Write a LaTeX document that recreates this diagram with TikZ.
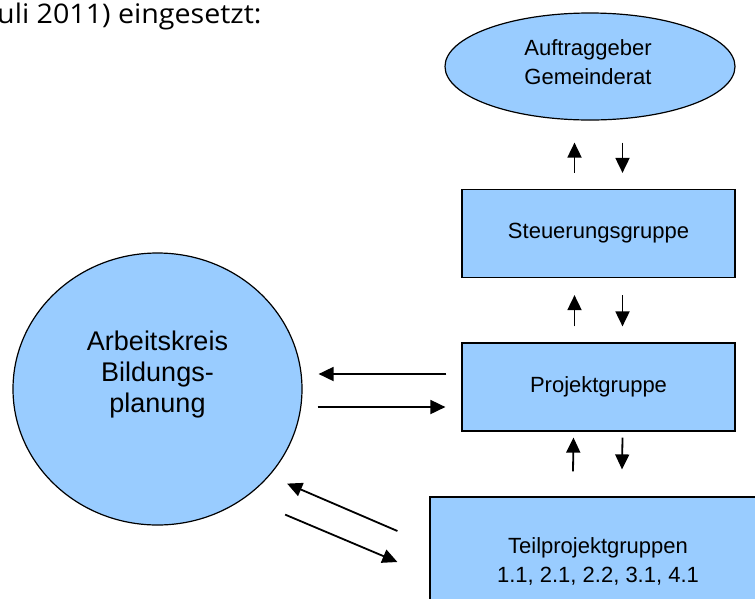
\documentclass[tikz,border=0pt]{standalone}
\usepackage{fontspec}
\setmainfont{Liberation Sans}
\newfontfamily\introfont{Open Sans}
\usetikzlibrary{shapes.geometric,arrows.meta}
\definecolor{gruppenblau}{HTML}{99CCFF}
\tikzset{
  gruppe/.style={draw,fill=gruppenblau,line width=1.2pt,minimum width=273pt,minimum height=88pt,font=\fontsize{22}{29}\selectfont,align=center},
  blase/.style={ellipse,draw,fill=gruppenblau,line width=1.2pt},
  innen/.style={align=center,font=\fontsize{22}{29}\selectfont},
  pfeil/.style={line width=1.8pt,-{Triangle[length=15pt,width=14pt]}},
}
\begin{document}
\begin{tikzpicture}[x=1pt,y=-1pt]
    \useasboundingbox (0,0) rectangle (755,598);
    \fill[white] (0,0) rectangle (755,598);
    \node[anchor=base west,inner sep=0pt,font=\introfont\fontsize{27}{32}\selectfont] (intro) at (-3,23) {\scalebox{1.06}[1]{uli 2011) eingesetzt:}};
    %% Gremien
    \node[blase,minimum width=290pt,minimum height=107pt,label={[innen,xshift=-2pt,yshift=4pt]center:Auftraggeber\\Gemeinderat}] (auftrag) at (590,66.5) {};
    \node[gruppe] (steuer) at (598.5,233.5) {Steuerungsgruppe};
    \node[gruppe] (projekt) at (598.5,387) {Projektgruppe};
    \node[gruppe,minimum width=336pt,minimum height=128pt] (teil) at (598,561) {Teilprojektgruppen\\1.1, 2.1, 2.2, 3.1, 4.1};
    \node[blase,minimum width=289pt,minimum height=272pt,label={[innen,font=\fontsize{27}{31}\selectfont,yshift=14pt]center:Arbeitskreis\\Bildungs-\\planung}] (kreis) at (157.5,389) {};
    %% Pfeile
    \draw[pfeil] ([xshift=-24pt,yshift=16pt]steuer.north) -- ([xshift=-24pt,yshift=-22pt]auftrag.south -| steuer.north);
    \draw[pfeil] ([xshift=24pt,yshift=-22pt]auftrag.south -| steuer.north) -- ([xshift=24pt,yshift=16pt]steuer.north);
    \draw[pfeil] ([xshift=-24pt,yshift=16pt]projekt.north) -- ([xshift=-24pt,yshift=-17pt]steuer.south);
    \draw[pfeil] ([xshift=24pt,yshift=-17pt]steuer.south) -- ([xshift=24pt,yshift=16pt]projekt.north);
    \draw[pfeil] ([xshift=-25pt,yshift=25pt]teil.north) -- ([xshift=-25pt,yshift=-6pt]projekt.south);
    \draw[pfeil] ([xshift=24pt,yshift=-6pt]projekt.south) -- ([xshift=24pt,yshift=27pt]teil.north);
    \draw[pfeil] ([xshift=-15pt,yshift=13pt]projekt.west) -- ([xshift=16pt,yshift=15pt]kreis.east);
    \draw[pfeil] ([xshift=15pt,yshift=-18pt]kreis.east) -- ([xshift=-16pt,yshift=-20pt]projekt.west);
    \draw[pfeil] ([xshift=-32pt,yshift=30pt]teil.west) -- ([xshift=27pt,yshift=2pt]kreis.south east);
    \draw[pfeil] ([xshift=25pt,yshift=-29pt]kreis.south east) -- ([xshift=-32pt,yshift=-1pt]teil.west);
\end{tikzpicture}
\end{document}
